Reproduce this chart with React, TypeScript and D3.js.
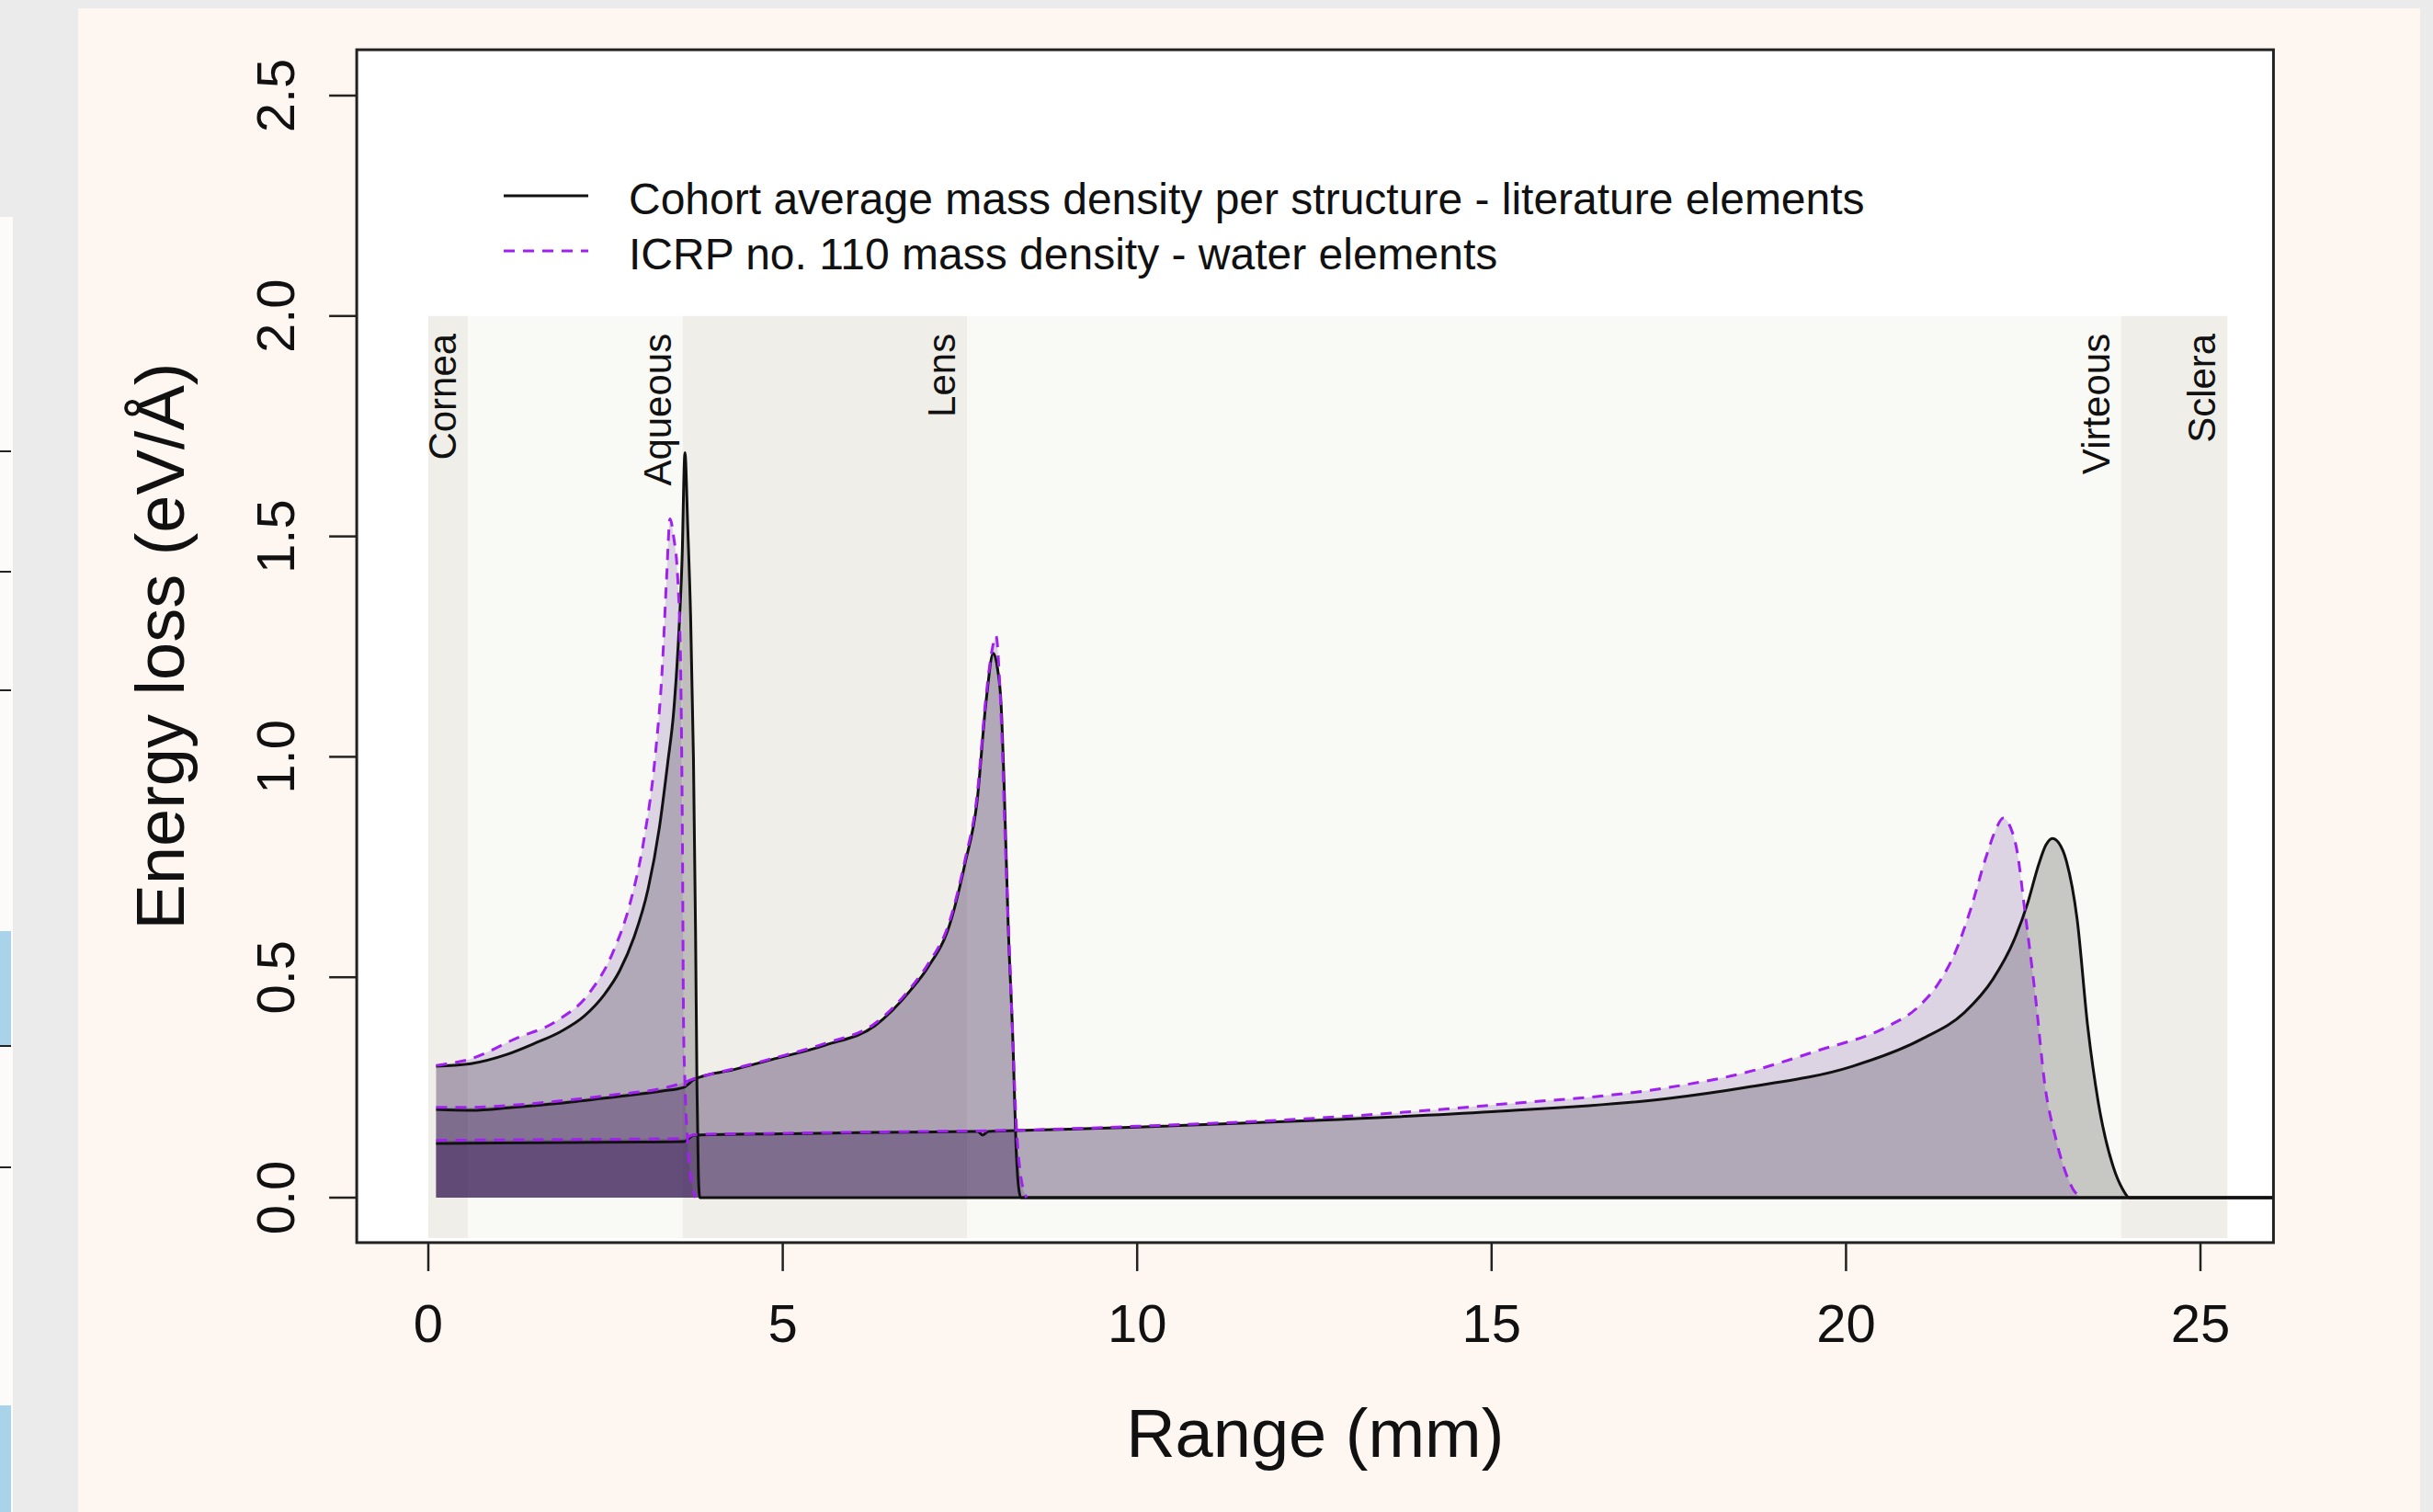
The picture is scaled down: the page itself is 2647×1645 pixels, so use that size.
import React from "react";
import * as d3 from "d3";

// ---------- data ----------
const xTicks = [0, 5, 10, 15, 20, 25];
const yTicks = [0, 0.5, 1, 1.5, 2, 2.5];
const xLabel = "Range (mm)";
const yLabel = "Energy loss (eV/Å)";

const regionNames = ["Cornea", "Aqueous", "Lens", "Virteous", "Sclera"];
const regionStart = [0, 0.56, 3.59, 7.6, 23.88];
const regionEnd = [0.56, 3.59, 7.6, 23.88, 25.38];
const regionShade = [true, false, true, false, true];
const regionTop = 2.0;
const regionBottom = -0.092;

const legendLabels = [
  "Cohort average mass density per structure - literature elements",
  "ICRP no. 110 mass density - water elements",
];

// literature elements (solid black)
const litCurve1: [number, number][] = [
  [0.11, 0.298], [0.6, 0.304], [1.11, 0.325], [1.5, 0.35], [1.87, 0.377], [2.2, 0.412],
  [2.48, 0.46], [2.7, 0.515], [2.9, 0.59], [3.1, 0.7], [3.26, 0.84], [3.38, 0.99],
  [3.46, 1.1], [3.52, 1.24], [3.58, 1.45], [3.62, 1.69], [3.66, 1.52], [3.7, 1.32],
  [3.74, 1.0], [3.77, 0.6], [3.79, 0.25], [3.81, 0.05], [3.83, 0], [27, 0],
];
const litCurve2: [number, number][] = [
  [0.11, 0.2], [0.6, 0.198], [1.2, 0.205], [1.9, 0.215], [2.6, 0.228], [3.3, 0.242],
  [3.6, 0.25], [3.75, 0.268], [4.3, 0.29], [4.84, 0.313], [5.6, 0.346], [6.3, 0.39],
  [6.8, 0.47], [7.05, 0.523], [7.35, 0.617], [7.57, 0.757], [7.74, 0.897], [7.87, 1.128],
  [7.97, 1.235], [8.03, 1.2], [8.08, 1.12], [8.12, 0.95], [8.18, 0.62], [8.25, 0.34],
  [8.29, 0.12], [8.33, 0.02], [8.36, 0], [27, 0],
];
const litCurve3: [number, number][] = [
  [0.11, 0.123], [1, 0.124], [2, 0.125], [3, 0.126], [3.6, 0.127], [3.75, 0.142],
  [5, 0.145], [6.3, 0.148], [7.75, 0.15], [7.82, 0.142], [7.9, 0.15], [8.3, 0.152],
  [10, 0.16], [12.5, 0.175], [15, 0.195], [17.5, 0.225], [18.59, 0.25], [20.09, 0.298],
  [21.07, 0.36], [21.67, 0.42], [22.07, 0.495], [22.37, 0.584], [22.56, 0.667],
  [22.72, 0.757], [22.82, 0.8], [22.91, 0.815], [23.0, 0.805], [23.11, 0.763],
  [23.26, 0.632], [23.41, 0.388], [23.56, 0.215], [23.76, 0.075], [23.9, 0.02],
  [24.0, 0], [27, 0],
];

// ICRP no. 110 (dashed purple)
const icrpCurve1: [number, number][] = [
  [0.11, 0.3], [0.6, 0.315], [1.22, 0.36], [1.8, 0.4], [2.26, 0.462], [2.6, 0.555],
  [2.85, 0.67], [3.05, 0.82], [3.2, 1.0], [3.3, 1.2], [3.36, 1.4], [3.41, 1.54],
  [3.46, 1.5], [3.52, 1.4], [3.56, 1.2], [3.585, 0.8], [3.6, 0.4], [3.62, 0.26],
  [3.66, 0.12], [3.72, 0.03], [3.77, 0],
];
const icrpCurve2: [number, number][] = [
  [0.11, 0.205], [0.6, 0.205], [1.2, 0.21], [1.9, 0.22], [2.6, 0.233], [3.3, 0.248],
  [3.58, 0.26], [3.75, 0.27], [4.3, 0.292], [4.84, 0.315], [5.6, 0.35], [6.3, 0.395],
  [6.8, 0.475], [7.05, 0.53], [7.35, 0.625], [7.57, 0.765], [7.74, 0.91], [7.87, 1.14],
  [7.95, 1.24], [8.01, 1.274], [8.05, 1.2], [8.09, 1.05], [8.14, 0.8], [8.2, 0.55],
  [8.25, 0.34], [8.29, 0.18], [8.35, 0.058], [8.44, 0],
];
const icrpCurve3: [number, number][] = [
  [0.11, 0.13], [1, 0.131], [2, 0.132], [3, 0.133], [3.6, 0.134], [3.75, 0.143],
  [5, 0.146], [6.3, 0.149], [8.3, 0.153], [10, 0.162], [12.5, 0.18], [15, 0.21],
  [17.5, 0.25], [18.59, 0.284], [19.59, 0.333], [20.58, 0.388], [21.0, 0.43],
  [21.32, 0.49], [21.55, 0.56], [21.75, 0.65], [21.97, 0.77], [22.1, 0.83],
  [22.22, 0.861], [22.32, 0.84], [22.42, 0.78], [22.51, 0.667], [22.67, 0.459],
  [22.81, 0.25], [22.95, 0.14], [23.06, 0.075], [23.2, 0.02], [23.31, 0],
];

const litCurves = [litCurve1, litCurve2, litCurve3];
const icrpCurves = [icrpCurve1, icrpCurve2, icrpCurve3];

// ---------- layout ----------
const W = 2647;
const H = 1645;
const xDomainBox: [number, number] = [-1.01, 26.03];
const yDomainBox: [number, number] = [-0.102, 2.604];
const FONT = "'Liberation Sans', Arial, Helvetica, sans-serif";

export default function App() {
  const x = d3.scaleLinear().domain([0, 25]).range([466, 2394]);
  const y = d3.scaleLinear().domain([0, 2.5]).range([1303, 104]);

  const left = x(xDomainBox[0]);
  const right = x(xDomainBox[1]);
  const top = y(yDomainBox[1]);
  const bottom = y(yDomainBox[0]);

  const line = d3
    .line<[number, number]>()
    .x((d) => x(d[0]))
    .y((d) => y(d[1]))
    .curve(d3.curveMonotoneX);
  const area = d3
    .area<[number, number]>()
    .x((d) => x(d[0]))
    .y0(y(0))
    .y1((d) => y(d[1]))
    .curve(d3.curveMonotoneX);

  const solidColor = "#111111";
  const dashColor = "#a020f0";
  const dash = "12 9";

  return (
    <svg
      width={W}
      height={H}
      viewBox={`0 0 ${W} ${H}`}
      style={{ position: "absolute", left: 0, top: 0, display: "block" }}
      fontFamily={FONT}
    >
      <defs>
        <clipPath id="plotClip">
          <rect x={left} y={top} width={right - left} height={bottom - top} />
        </clipPath>
      </defs>

      {/* page backgrounds */}
      <rect x={0} y={0} width={W} height={H} fill="#ebebeb" />
      <rect x={85} y={9} width={2633 - 85} height={H - 9} fill="#fdf6f1" />
      {/* left screenshot strip */}
      <rect x={0} y={236} width={14} height={H - 236} fill="#fcfbf9" />
      <rect x={0} y={1013} width={12} height={125} fill="#a8d3e8" />
      <rect x={0} y={1529} width={12} height={116} fill="#a8d3e8" />
      {[491, 622, 751, 1138, 1270].map((yy) => (
        <line key={yy} x1={0} x2={12} y1={yy} y2={yy} stroke="#222" strokeWidth={2} />
      ))}

      {/* plot area */}
      <rect x={left} y={top} width={right - left} height={bottom - top} fill="#ffffff" />

      {/* region bands */}
      {regionNames.map((n, i) => (
        <rect
          key={n}
          x={x(regionStart[i])}
          y={y(regionTop)}
          width={x(regionEnd[i]) - x(regionStart[i])}
          height={y(regionBottom) - y(regionTop)}
          fill={regionShade[i] ? "#efeee9" : "#f9f9f6"}
        />
      ))}
      {regionNames.map((n, i) => (
        <text
          key={"lab" + n}
          transform={`translate(${x(regionEnd[i]) - 13},${y(regionTop) + 19}) rotate(-90)`}
          textAnchor="end"
          fontSize={42}
          fill="#111"
        >
          {n}
        </text>
      ))}

      <g clipPath="url(#plotClip)">
        {/* fills */}
        {litCurves.map((c, i) => (
          <path key={"lf" + i} d={area(c) || ""} fill="rgba(0,0,0,0.2)" stroke="none" />
        ))}
        {icrpCurves.map((c, i) => (
          <path key={"if" + i} d={area(c) || ""} fill="rgba(60,0,120,0.15)" stroke="none" />
        ))}
        {/* lines */}
        {litCurves.map((c, i) => (
          <path
            key={"ll" + i}
            d={line(c) || ""}
            fill="none"
            stroke={solidColor}
            strokeWidth={3}
            strokeLinejoin="round"
          />
        ))}
        {icrpCurves.map((c, i) => (
          <path
            key={"il" + i}
            d={line(c) || ""}
            fill="none"
            stroke={dashColor}
            strokeWidth={3}
            strokeDasharray={dash}
            strokeLinejoin="round"
          />
        ))}
      </g>

      {/* legend */}
      <line x1={548} x2={640} y1={213} y2={213} stroke={solidColor} strokeWidth={3} />
      <line
        x1={548}
        x2={640}
        y1={273}
        y2={273}
        stroke={dashColor}
        strokeWidth={3}
        strokeDasharray={dash}
      />
      <text x={684} y={233} fontSize={48} fill="#111">
        {legendLabels[0]}
      </text>
      <text x={684} y={293} fontSize={48} fill="#111">
        {legendLabels[1]}
      </text>

      {/* box */}
      <rect
        x={left}
        y={top}
        width={right - left}
        height={bottom - top}
        fill="none"
        stroke="#222"
        strokeWidth={3}
      />

      {/* x axis */}
      {xTicks.map((t) => (
        <g key={"xt" + t}>
          <line x1={x(t)} x2={x(t)} y1={bottom} y2={bottom + 31} stroke="#222" strokeWidth={2.5} />
          <text x={x(t)} y={1460} textAnchor="middle" fontSize={58} fill="#111">
            {String(t)}
          </text>
        </g>
      ))}
      {/* y axis */}
      {yTicks.map((t) => (
        <g key={"yt" + t}>
          <line x1={left - 30} x2={left} y1={y(t)} y2={y(t)} stroke="#222" strokeWidth={2.5} />
          <text
            transform={`translate(320,${y(t)}) rotate(-90)`}
            textAnchor="middle"
            fontSize={58}
            fill="#111"
          >
            {t.toFixed(1)}
          </text>
        </g>
      ))}

      {/* axis titles */}
      <text x={(left + right) / 2} y={1585} textAnchor="middle" fontSize={74} fill="#111">
        {xLabel}
      </text>
      <text
        transform={`translate(200,${(top + bottom) / 2}) rotate(-90)`}
        textAnchor="middle"
        fontSize={74}
        fill="#111"
      >
        {yLabel}
      </text>
    </svg>
  );
}
